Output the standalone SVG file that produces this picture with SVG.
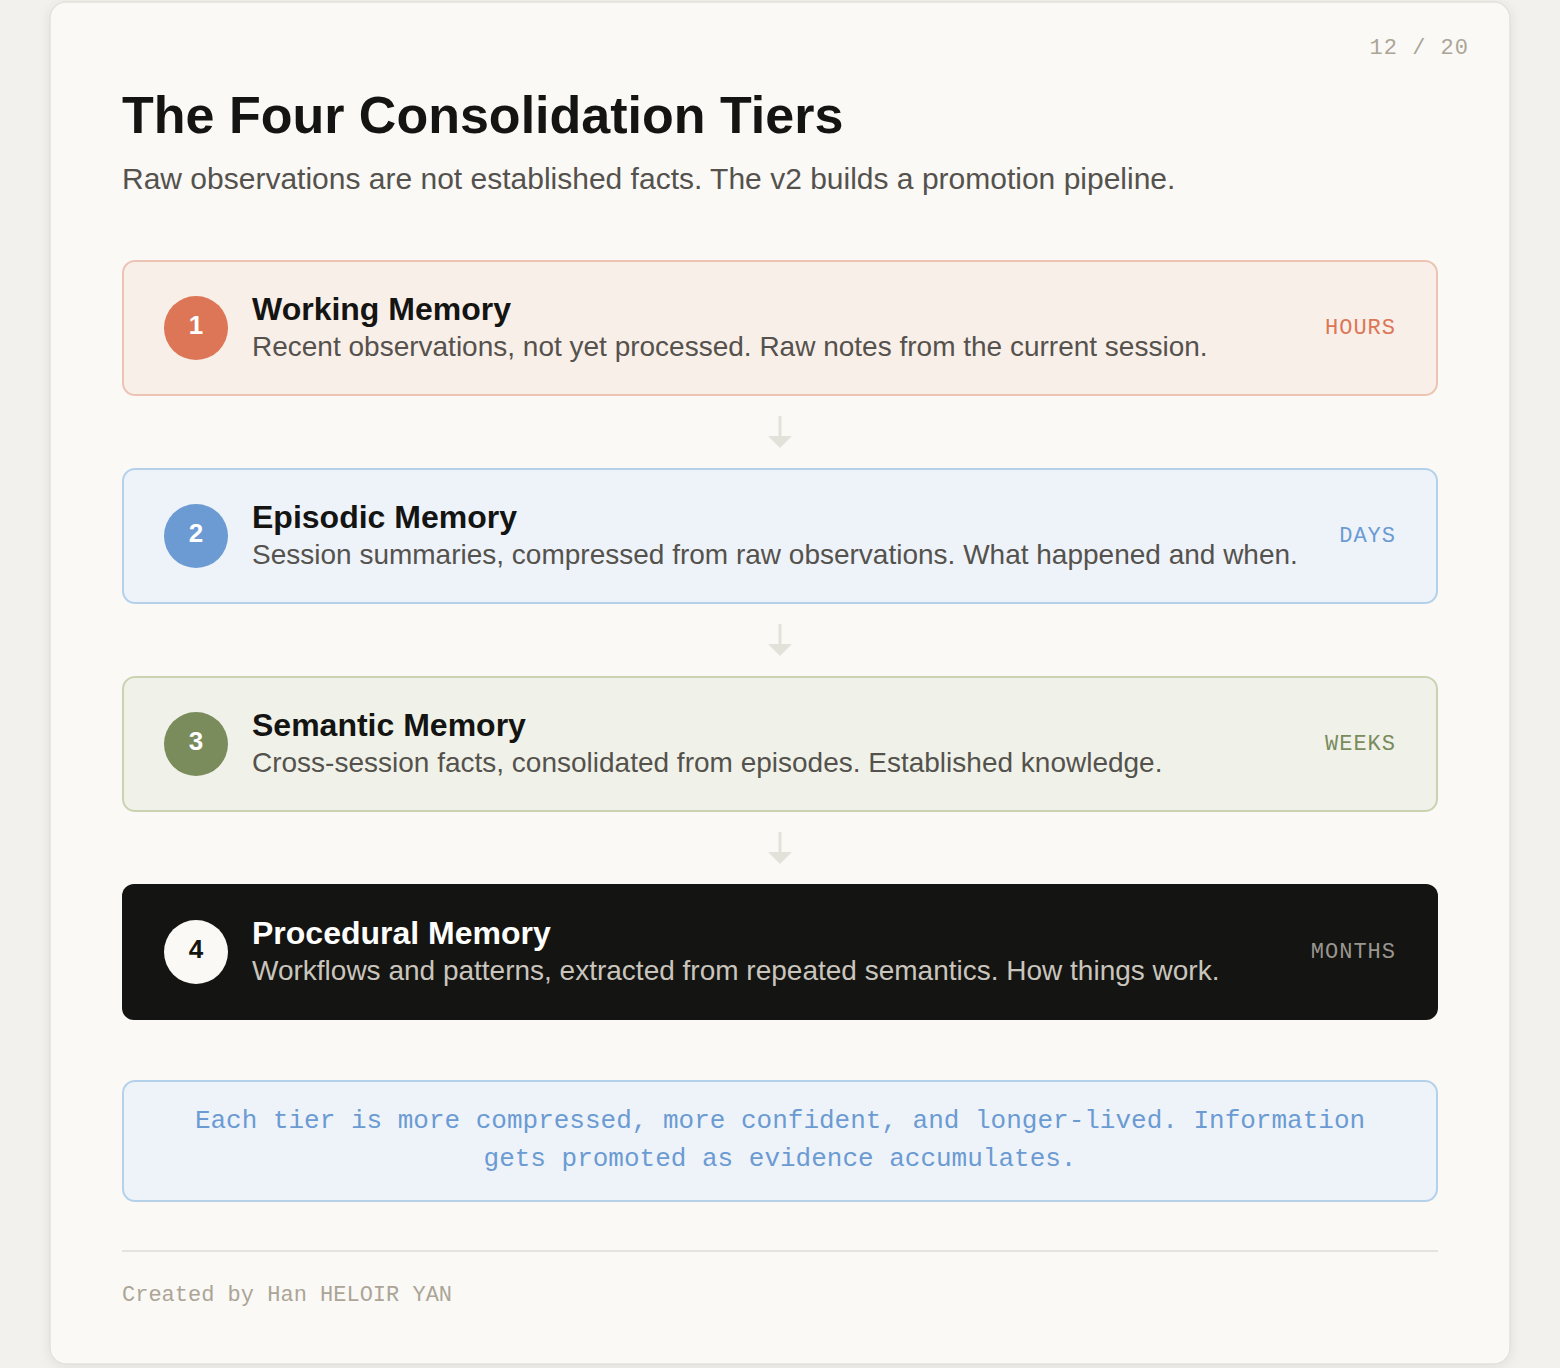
<svg xmlns="http://www.w3.org/2000/svg" width="1560" height="1368" viewBox="0 0 1560 1368">
<defs>
<filter id="sh" x="-5%" y="-5%" width="110%" height="110%">
<feDropShadow dx="0" dy="2" stdDeviation="6" flood-color="#000" flood-opacity="0.08"/>
</filter>
</defs>
<style>
.sans{font-family:"Liberation Sans",Arial,sans-serif}
.mono{font-family:"Liberation Mono","Courier New",monospace}
.ttl{font-family:"Liberation Sans",Arial,sans-serif;font-weight:bold;font-size:32px;fill:#141412}
.dsc{font-family:"Liberation Sans",Arial,sans-serif;font-size:28px;fill:#55524d}
.num{font-family:"Liberation Sans",Arial,sans-serif;font-weight:bold;font-size:26px;fill:#ffffff;text-anchor:middle}
.lbl{font-family:"Liberation Mono","Courier New",monospace;font-size:22px;letter-spacing:1px;text-anchor:end}
.arr{stroke:#e4e1da;stroke-width:3;fill:none}
.arrh{fill:#e4e1da}
</style>
<rect width="1560" height="1368" fill="#f2f1ed"/>
<rect x="50" y="2" width="1460" height="1362" rx="16" fill="#faf9f6" stroke="#e4e1da" stroke-width="1.5" filter="url(#sh)"/>
<text x="1469" y="54" class="mono" font-size="22" letter-spacing="1" fill="#aca596" text-anchor="end">12 / 20</text>
<text x="122" y="133" class="sans" font-size="52" font-weight="bold" fill="#141412">The Four Consolidation Tiers</text>
<text x="122" y="189" class="sans" font-size="30" fill="#55524d">Raw observations are not established facts. The v2 builds a promotion pipeline.</text>

<g id="connectors">
<line class="arr" x1="780" y1="416" x2="780" y2="436"/>
<polygon class="arrh" points="768,436 792,436 780,448"/>
<line class="arr" x1="780" y1="624" x2="780" y2="644"/>
<polygon class="arrh" points="768,644 792,644 780,656"/>
<line class="arr" x1="780" y1="832" x2="780" y2="852"/>
<polygon class="arrh" points="768,852 792,852 780,864"/>
</g>

<g id="tier1">
<rect x="123" y="261" width="1314" height="134" rx="12" fill="#f9efe9" stroke="#edc3b3" stroke-width="2"/>
<circle cx="196" cy="328" r="32" fill="#dc7656"/>
<text x="196" y="334" class="num">1</text>
<text x="252" y="320" class="ttl">Working Memory</text>
<text x="252" y="356" class="dsc">Recent observations, not yet processed. Raw notes from the current session.</text>
<text x="1396" y="334" class="lbl" fill="#dc7656">HOURS</text>
</g>

<g id="tier2">
<rect x="123" y="469" width="1314" height="134" rx="12" fill="#eef3fa" stroke="#b5d1ea" stroke-width="2"/>
<circle cx="196" cy="536" r="32" fill="#6b9bd2"/>
<text x="196" y="542" class="num">2</text>
<text x="252" y="528" class="ttl">Episodic Memory</text>
<text x="252" y="564" class="dsc">Session summaries, compressed from raw observations. What happened and when.</text>
<text x="1396" y="542" class="lbl" fill="#6b9bd2">DAYS</text>
</g>

<g id="tier3">
<rect x="123" y="677" width="1314" height="134" rx="12" fill="#f0f2ea" stroke="#c9d3b2" stroke-width="2"/>
<circle cx="196" cy="744" r="32" fill="#7a8b5c"/>
<text x="196" y="750" class="num">3</text>
<text x="252" y="736" class="ttl">Semantic Memory</text>
<text x="252" y="772" class="dsc">Cross-session facts, consolidated from episodes. Established knowledge.</text>
<text x="1396" y="750" class="lbl" fill="#7a8b5c">WEEKS</text>
</g>

<g id="tier4">
<rect x="122" y="884" width="1316" height="136" rx="12" fill="#141412"/>
<circle cx="196" cy="952" r="32" fill="#faf9f6"/>
<text x="196" y="958" class="num" style="fill:#141412">4</text>
<text x="252" y="944" class="ttl" style="fill:#ffffff">Procedural Memory</text>
<text x="252" y="980" class="dsc" style="fill:#c9c5bd">Workflows and patterns, extracted from repeated semantics. How things work.</text>
<text x="1396" y="958" class="lbl" fill="#9a968f">MONTHS</text>
</g>

<g id="note">
<rect x="123" y="1081" width="1314" height="120" rx="12" fill="#eef3fa" stroke="#b5d1ea" stroke-width="2"/>
<text x="780" y="1128" class="mono" font-size="26" fill="#6b9bd2" text-anchor="middle">Each tier is more compressed, more confident, and longer-lived. Information</text>
<text x="780" y="1166" class="mono" font-size="26" fill="#6b9bd2" text-anchor="middle">gets promoted as evidence accumulates.</text>
</g>

<line x1="122" y1="1251" x2="1438" y2="1251" stroke="#e6e3dc" stroke-width="2"/>
<text x="122" y="1301" class="mono" font-size="22" fill="#aca596">Created by Han HELOIR YAN</text>
</svg>
